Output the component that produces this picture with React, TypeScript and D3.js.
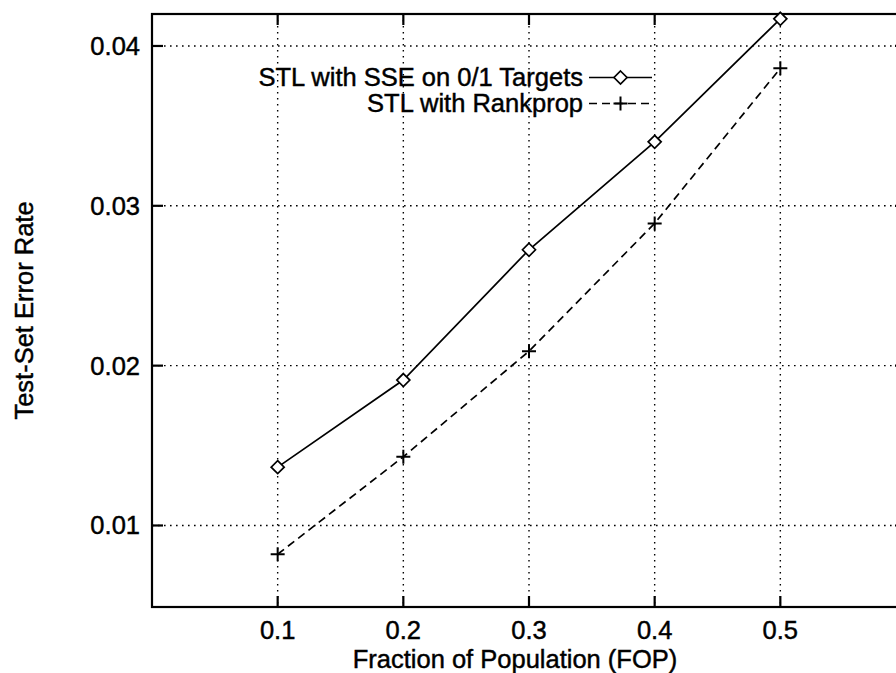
import * as d3 from "d3";

// values
const fop = [0.1, 0.2, 0.3, 0.4, 0.5];
const sseErr = [0.01365, 0.0191, 0.02725, 0.034, 0.0417];
const rankErr = [0.0082, 0.0143, 0.0209, 0.0289, 0.0386];
const seriesNames = ["STL with SSE on 0/1 Targets", "STL with Rankprop"];
const xTicks = [0.1, 0.2, 0.3, 0.4, 0.5];
const yTicks = [0.01, 0.02, 0.03, 0.04];

const WIDTH = 896;
const HEIGHT = 673;
const LEFT = 152;
const RIGHT = 906; // right frame sits just off the page
const TOP = 14;
const BOTTOM = 607;
const TICK = 11;
const FONT = "'Liberation Sans', Arial, Helvetica, sans-serif";
const FS = 25.5;

const Diamond = ({ x, y }: { x: number; y: number }) => (
  <path
    d={`M${x},${y - 6.5}L${x + 6.5},${y}L${x},${y + 6.5}L${x - 6.5},${y}Z`}
    fill="#fff"
    stroke="#000"
    strokeWidth={1.7}
  />
);

const Plus = ({ x, y }: { x: number; y: number }) => (
  <path
    d={`M${x - 7},${y}H${x + 7}M${x},${y - 7}V${y + 7}`}
    stroke="#000"
    strokeWidth={2}
    fill="none"
  />
);

export default function App() {
  const x = d3.scaleLinear().domain([0, 0.6]).range([LEFT, RIGHT]);
  const y = d3.scaleLinear().domain([0.0049, 0.042]).range([BOTTOM, TOP]);

  const line = d3
    .line<number>()
    .x((_, i) => x(fop[i]))
    .y((d) => y(d));

  // key sample positions
  const keyX1 = 589;
  const keyX2 = 652;
  const keyMid = (keyX1 + keyX2) / 2;
  const keyRows = [77.5, 103.5];

  // scanned print looks a touch heavy, so give the glyphs a thin outline
  const textStyle = { fill: "#000", stroke: "#000", strokeWidth: 0.45 };

  return (
    <svg
      width={WIDTH}
      height={HEIGHT}
      style={{ position: "absolute", left: 0, top: 0, background: "#fff" }}
      fontFamily={FONT}
    >
      <rect x={0} y={0} width={WIDTH} height={HEIGHT} fill="#fff" />

      {/* grid */}
      <g stroke="#000" strokeWidth={1.4} strokeDasharray="1.6,4.4">
        {xTicks.map((t) => (
          <line key={"gx" + t} x1={x(t)} x2={x(t)} y1={TOP} y2={BOTTOM} />
        ))}
        {yTicks.map((t) => (
          <line key={"gy" + t} x1={LEFT} x2={RIGHT} y1={y(t)} y2={y(t)} />
        ))}
      </g>

      {/* ticks, mirrored on all four sides */}
      <g stroke="#000" strokeWidth={2.2}>
        {xTicks.map((t) => (
          <g key={"tx" + t}>
            <line x1={x(t)} x2={x(t)} y1={BOTTOM} y2={BOTTOM - TICK} />
            <line x1={x(t)} x2={x(t)} y1={TOP} y2={TOP + TICK} />
          </g>
        ))}
        {yTicks.map((t) => (
          <g key={"ty" + t}>
            <line x1={LEFT} x2={LEFT + TICK} y1={y(t)} y2={y(t)} />
            <line x1={RIGHT} x2={RIGHT - TICK} y1={y(t)} y2={y(t)} />
          </g>
        ))}
      </g>

      {/* frame */}
      <rect
        x={LEFT}
        y={TOP}
        width={RIGHT - LEFT}
        height={BOTTOM - TOP}
        fill="none"
        stroke="#000"
        strokeWidth={2.2}
      />

      {/* tick labels */}
      <g fontSize={FS} style={textStyle}>
        {xTicks.map((t) => (
          <text key={"lx" + t} x={x(t)} y={639} textAnchor="middle">
            {d3.format(".1f")(t)}
          </text>
        ))}
        {yTicks.map((t) => (
          <text key={"ly" + t} x={140} y={y(t) + 9} textAnchor="end">
            {d3.format(".2f")(t)}
          </text>
        ))}
      </g>

      {/* axis titles */}
      <text x={515} y={668} textAnchor="middle" fontSize={FS} style={textStyle}>
        Fraction of Population (FOP)
      </text>
      <text
        transform={`translate(33, ${(TOP + BOTTOM) / 2}) rotate(-90)`}
        textAnchor="middle"
        fontSize={FS}
        style={textStyle}
      >
        Test-Set Error Rate
      </text>

      {/* series */}
      <path d={line(sseErr) ?? ""} fill="none" stroke="#000" strokeWidth={1.7} />
      <path
        d={line(rankErr) ?? ""}
        fill="none"
        stroke="#000"
        strokeWidth={1.7}
        strokeDasharray="8,5"
      />
      {sseErr.map((v, i) => (
        <Diamond key={"d" + i} x={x(fop[i])} y={y(v)} />
      ))}
      {rankErr.map((v, i) => (
        <Plus key={"p" + i} x={x(fop[i])} y={y(v)} />
      ))}

      {/* key */}
      {seriesNames.map((name, i) => (
        <g key={name}>
          <text
            x={583}
            y={keyRows[i] + 8}
            textAnchor="end"
            fontSize={FS}
            style={textStyle}
          >
            {name}
          </text>
          <line
            x1={keyX1}
            x2={keyX2}
            y1={keyRows[i]}
            y2={keyRows[i]}
            stroke="#000"
            strokeWidth={1.7}
            strokeDasharray={i === 1 ? "8,5" : undefined}
          />
          {i === 0 ? (
            <Diamond x={keyMid} y={keyRows[i]} />
          ) : (
            <Plus x={keyMid} y={keyRows[i]} />
          )}
        </g>
      ))}
    </svg>
  );
}
